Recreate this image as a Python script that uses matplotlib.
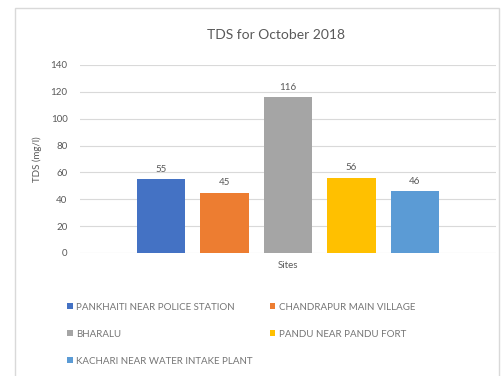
import matplotlib
matplotlib.use("Agg")
import matplotlib.pyplot as plt
from matplotlib.patches import Rectangle

sites = ["PANKHAITI NEAR POLICE STATION", "CHANDRAPUR MAIN VILLAGE", "BHARALU",
         "PANDU NEAR PANDU FORT", "KACHARI NEAR WATER INTAKE PLANT"]
tds = [55, 45, 116, 56, 46]
colors = ["#4472C4", "#ED7D31", "#A5A5A5", "#FFC000", "#5B9BD5"]
yticks = [0, 20, 40, 60, 80, 100, 120, 140]

plt.rcParams["font.family"] = ["Lato", "DejaVu Sans"]
txt = "#595959"

fig = plt.figure(figsize=(5.02, 3.76), dpi=100)
fig.patches.append(Rectangle((15 / 502, -0.01), 484 / 502, 1 - 8 / 376 + 0.01,
                             transform=fig.transFigure, fill=False,
                             edgecolor="#d9d9d9", lw=1))
ax = fig.add_axes([80 / 502, 1 - 253 / 376, 416 / 502, 188 / 376])

handles = []
for i, (name, v, c) in enumerate(zip(sites, tds, colors)):
    b = ax.bar(i, v, width=0.76, color=c, label=name, zorder=3)
    handles.append(b)
    ax.text(i, v + 4, str(v), ha="center", va="bottom", fontsize=7, color=txt)

ax.set_xlim(-1.28, 5.28)
ax.set_ylim(0, 140)
ax.set_yticks(yticks)
ax.set_xticks([])
ax.grid(axis="y", color="#d9d9d9", lw=0.8, zorder=0)
ax.tick_params(axis="y", length=0, labelsize=7, labelcolor=txt, pad=9)
for s in ax.spines.values():
    s.set_visible(False)
ax.set_ylabel("TDS (mg/l)", fontsize=7, color=txt, labelpad=6)
ax.set_xlabel("Sites", fontsize=7, color=txt, labelpad=6)
fig.text(0.55, 1 - 35 / 376, "TDS for October 2018", ha="center", va="center",
         fontsize=10, color=txt)

# Excel fills legend row by row, matplotlib column by column
order = [0, 2, 4, 1, 3]
fig.legend([handles[k] for k in order], [sites[k] for k in order], ncol=2,
           loc="upper left", bbox_to_anchor=(58 / 502, 1 - 294 / 376),
           frameon=False, fontsize=7, labelcolor="#757575", handlelength=0.6,
           handleheight=0.6, handletextpad=0.4, labelspacing=1.85,
           columnspacing=1.7)

fig.savefig("out.png", dpi=100)
